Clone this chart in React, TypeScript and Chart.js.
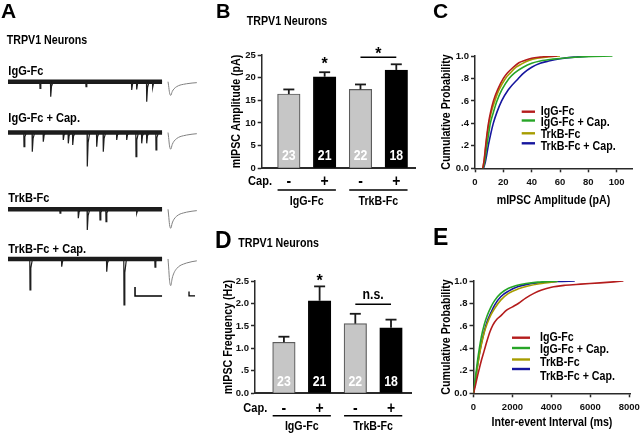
import React, { useEffect, useRef } from "react";
import { Chart, registerables } from "chart.js";

Chart.register(...registerables);

// ---------------- fonts / styles ----------------
const WIDE = "'Liberation Sans', Arial, sans-serif";
const NARROW_SCALE = 0.82;
const AXIS = "#2a2a2a";
const RED = "#b41c1c";
const GREEN = "#27a527";
const OLIVE = "#a69c00";
const BLUE = "#16169e";
const GREY_BAR = "#c6c6c6";

// ---------------- data : panel A (traces) ----------------
const TRACE_LABELS = ["IgG-Fc", "IgG-Fc + Cap.", "TrkB-Fc", "TrkB-Fc + Cap."];
const TRACE_MS = 5700;
// event times (ms) and amplitudes (pA)
const EV_IGG_T = [1184, 1580, 2886, 4577, 4762, 5132, 5354];
const EV_IGG_A = [7.4, 16.7, 5.6, 9.2, 8.6, 22.2, 6.3];
const EV_IGGCAP_T = [592, 899, 1306, 2046, 2231, 2394, 2934, 3282, 3526, 4022, 4392, 4736, 4947, 5132, 5476];
const EV_IGGCAP_A = [15.8, 21.3, 10.2, 8.3, 12, 13.9, 37.8, 15.8, 21.3, 8.3, 8.3, 26.9, 12, 12, 19.4];
const EV_TRKB_T = [1924, 2601, 2934, 3404, 3626, 4762];
const EV_TRKB_A = [4.4, 10, 23, 11.9, 13.7, 4.4];
const EV_TRKBCAP_T = [814, 1987, 3652, 4292, 5439];
const EV_TRKBCAP_A = [34.4, 8.6, 14.1, 51.1, 9.2];
// averaged event (inset)
const INSET_T = [0, 1, 2.5, 4.5, 7, 10, 14.5, 20, 26, 31, 40, 48];
const INSET_FRAC = [0, 0.3, 0.8, 1, 0.72, 0.52, 0.36, 0.25, 0.19, 0.15, 0.1, 0.07];
const INSET_AMP = [15.2, 18.5, 21.1, 29.6];
const SCALE_MS = 1000;
const SCALE_PA = 10;
const INSET_SCALE_MS = 10;
const INSET_SCALE_PA = 5;

// ---------------- data : panels B / D ----------------
const GROUPS = ["IgG-Fc", "TrkB-Fc"];
const CAP = ["-", "+", "-", "+"];
const N_CELLS = [23, 21, 22, 18];
const BAR_POS = [1, 2, 3, 4];
const AMP_MEAN = [16.4, 20.2, 17.4, 21.7];
const AMP_SEM = [1.0, 1.0, 1.1, 1.25];
const FREQ_MEAN = [1.135, 2.06, 1.55, 1.46];
const FREQ_SEM = [0.125, 0.32, 0.22, 0.18];
const AMP_TICKS = [0, 5, 10, 15, 20, 25];
const AMP_TICK_LABELS = ["0", "5", "10", "15", "20", "25"];
const FREQ_TICKS = [0, 0.5, 1, 1.5, 2, 2.5];
const FREQ_TICK_LABELS = ["0.0", ".5", "1.0", "1.5", "2.0", "2.5"];

// ---------------- data : panels C / E ----------------
const SERIES_NAMES = ["IgG-Fc", "IgG-Fc + Cap.", "TrkB-Fc", "TrkB-Fc + Cap."];
const SERIES_COLORS = [RED, GREEN, OLIVE, BLUE];
const PROB_TICKS = [0, 0.2, 0.4, 0.6, 0.8, 1];
const PROB_TICK_LABELS = ["0.0", ".2", ".4", ".6", ".8", "1.0"];
const AMP_X_TICKS = [0, 20, 40, 60, 80, 100];
const IEI_TICKS = [0, 2000, 4000, 6000, 8000];

const C_IGG = [[5.5, 0], [6.5, 0.08], [7.5, 0.2], [8.5, 0.31], [9.5, 0.4], [11, 0.5], [13, 0.6], [16, 0.7], [20, 0.8], [23, 0.85], [27, 0.9], [31, 0.94], [35, 0.96], [40, 0.98], [46, 0.99], [52, 0.996], [58, 1]];
const C_IGG_CAP = [[5.8, 0], [7, 0.07], [8, 0.17], [9.2, 0.27], [10.8, 0.4], [13, 0.5], [15.5, 0.6], [19, 0.7], [24, 0.8], [28, 0.85], [34, 0.9], [40, 0.935], [46, 0.955], [55, 0.972], [65, 0.985], [78, 0.994], [97, 1]];
const C_TRKB = [[5.5, 0], [6.5, 0.07], [7.5, 0.18], [8.5, 0.29], [9.8, 0.4], [11.5, 0.5], [14, 0.6], [17, 0.7], [21.5, 0.8], [25, 0.85], [29, 0.9], [33, 0.93], [38, 0.96], [44, 0.98], [52, 0.993], [60, 1]];
const C_TRKB_CAP = [[6, 0], [7.2, 0.05], [8.4, 0.13], [9.5, 0.21], [11, 0.3], [12.9, 0.4], [15.5, 0.5], [18.8, 0.6], [23.5, 0.7], [30.6, 0.8], [34.5, 0.85], [40, 0.9], [46, 0.935], [52, 0.955], [60, 0.975], [70, 0.99], [82, 1]];

const E_IGG = [[0, 0], [100, 0.07], [200, 0.15], [300, 0.22], [400, 0.29], [550, 0.38], [700, 0.47], [850, 0.55], [1000, 0.61], [1200, 0.66], [1400, 0.69], [1700, 0.74], [2000, 0.77], [2300, 0.8], [2700, 0.85], [3100, 0.89], [3500, 0.92], [4000, 0.945], [4700, 0.962], [5500, 0.972], [6500, 0.983], [7200, 0.992], [7700, 1]];
const E_IGG_CAP = [[0, 0], [100, 0.14], [200, 0.28], [300, 0.4], [400, 0.5], [550, 0.61], [700, 0.69], [900, 0.77], [1100, 0.83], [1400, 0.89], [1800, 0.935], [2200, 0.96], [2700, 0.978], [3300, 0.99], [4343, 1]];
const E_TRKB = [[0, 0], [100, 0.11], [200, 0.23], [300, 0.34], [400, 0.43], [550, 0.54], [700, 0.62], [900, 0.7], [1100, 0.76], [1400, 0.83], [1800, 0.89], [2300, 0.93], [2800, 0.955], [3400, 0.975], [4300, 0.995]];
const E_TRKB_CAP = [[0, 0], [100, 0.12], [200, 0.24], [300, 0.35], [400, 0.44], [550, 0.55], [700, 0.64], [900, 0.72], [1100, 0.79], [1400, 0.86], [1800, 0.91], [2300, 0.95], [2800, 0.972], [3500, 0.987], [4300, 0.995], [5203, 1]];

// ---------------- layout ----------------
const CW = 700;
const CH = 433;
const YW = 40;
const XH = 30;

const A_L = {
  area: { left: 8, top: 60, right: 200, bottom: 310 },
  xMax: 7104, xiMin: -266.7, xiMax: 53.3, yMin: -277.8,
  offsets: [-24.1, -80.6, -165.9, -221.1],
  labelX: 8.3, labelBase: [75, 122, 201.7, 252.7],
  letter: ["A", 1, 18.3, 21], subtitle: [6.7, 44],
  bar: [4700, -262.2], ibar: [35, -262.2],
};
const B_L = {
  area: { left: 261.7, top: 55, right: 416, bottom: 168.3 },
  xMin: 0.243, xMax: 4.55, yMax: 25,
  letter: ["B", 216, 17.5, 20], subtitle: [246.7, 25],
  yTitle: ["mIPSC Amplitude (pA)", 236, 111.5],
  nY: 155.5, capY: 181, capX: 248, capBase: 185, ulY: 190, groupBase: 205,
  stars: [[1, 23.9]], pair: [2, 3, 24.5, "*", 26.1],
};
const D_L = {
  area: { left: 255, top: 281, right: 411, bottom: 393.3 },
  xMin: 0.19, xMax: 4.56, yMax: 2.5,
  letter: ["D", 215, 248, 23], subtitle: [238.3, 246.7],
  yTitle: ["mIPSC Frequency (Hz)", 228, 337],
  nY: 381.7, capY: 408, capX: 243.3, capBase: 412, ulY: 415.7, groupBase: 430,
  stars: [[1, 2.6]], pair: [2, 3, 1.98, "n.s.", 2.19],
};
const C_L = {
  area: { left: 475, top: 56, right: 632, bottom: 168.3 },
  xMin: 0, xMax: 110.8,
  letter: ["C", 433, 18.3, 21],
  yTitle: ["Cumulative Probability", 446.7, 112],
  xTitle: ["mIPSC Amplitude (pA)", 553.5, 204],
  legend: { x0: 521.7, x1: 535, tx: 540.7, lineY: [111.7, 120.5, 133.3, 143.3], textY: [115, 126, 137.5, 150] },
};
const E_L = {
  area: { left: 473.5, top: 281, right: 630, bottom: 393.3 },
  xMin: 0, xMax: 8040,
  letter: ["E", 433, 245, 23],
  yTitle: ["Cumulative Probability", 446, 337],
  xTitle: ["Inter-event Interval (ms)", 552, 426],
  legend: { x0: 512, x1: 530, tx: 540, lineY: [337.7, 348, 359.5, 369], textY: [341.3, 353.1, 366.3, 380.1] },
};

// ---------------- helpers ----------------
function text(ctx: any, s: string, x: number, y: number, size: number, o: any = {}) {
  const { align = "left", baseline = "alphabetic", color = "#000", narrow = true, weight = "bold", rotate = 0 } = o;
  ctx.save();
  ctx.font = `${weight} ${size}px ${WIDE}`;
  ctx.fillStyle = color;
  ctx.textAlign = align;
  ctx.textBaseline = baseline;
  ctx.translate(x, y);
  if (rotate) ctx.rotate(rotate);
  if (narrow) ctx.scale(NARROW_SCALE, 1);
  ctx.fillText(s, 0, 0);
  ctx.restore();
}

function line(ctx: any, x0: number, y0: number, x1: number, y1: number, w: number, color = "#000") {
  ctx.save();
  ctx.strokeStyle = color;
  ctx.lineWidth = w;
  ctx.beginPath();
  ctx.moveTo(x0, y0);
  ctx.lineTo(x1, y1);
  ctx.stroke();
  ctx.restore();
}

function padding(area: any, withAxes: boolean) {
  return withAxes
    ? { left: area.left - YW, top: area.top, right: CW - area.right, bottom: CH - area.bottom - XH }
    : { left: area.left, top: area.top, right: CW - area.right, bottom: CH - area.bottom };
}

function baseOptions(area: any, withAxes: boolean) {
  return {
    responsive: false,
    maintainAspectRatio: false,
    animation: false,
    events: [],
    layout: { padding: padding(area, withAxes) },
    plugins: { legend: { display: false }, tooltip: { enabled: false }, title: { display: false } },
  };
}

const tickFont = { family: WIDE, size: 9.5, weight: "bold" };

function yAxis(min: number, max: number, ticks: number[], labels: string[]) {
  return {
    type: "linear", position: "left", min, max,
    afterBuildTicks: (s: any) => { s.ticks = ticks.map((v) => ({ value: v })); },
    afterFit: (s: any) => { s.width = YW; },
    ticks: { callback: (_v: any, i: number) => labels[i], color: "#111", font: tickFont, padding: 2 },
    grid: { display: true, drawOnChartArea: false, drawTicks: true, tickLength: 4, tickWidth: 1.5, tickColor: AXIS, color: AXIS },
    border: { display: true, color: AXIS, width: 1.5 },
  };
}

function xAxisTicks(min: number, max: number, ticks: number[]) {
  return {
    type: "linear", position: "bottom", min, max, offset: false,
    afterBuildTicks: (s: any) => { s.ticks = ticks.map((v) => ({ value: v })); },
    afterFit: (s: any) => { s.height = XH; },
    ticks: { callback: (v: any) => String(v), color: "#111", font: tickFont, padding: 4, maxRotation: 0, autoSkip: false },
    grid: { display: true, drawOnChartArea: false, drawTicks: true, tickLength: 4, tickWidth: 1.5, tickColor: AXIS, color: AXIS, offset: false },
    border: { display: true, color: AXIS, width: 1.5 },
  };
}

function xAxisPlain(min: number, max: number) {
  return {
    type: "linear", position: "bottom", min, max, offset: false,
    afterFit: (s: any) => { s.height = XH; },
    ticks: { display: false },
    grid: { display: false, offset: false },
    border: { display: true, color: AXIS, width: 2 },
  };
}

// ---------------- panel A ----------------
function eventPoints(times: number[], amps: number[], off: number) {
  const pts: any[] = [{ x: 0, y: off }];
  times.forEach((t, k) => {
    const a = amps[k];
    pts.push({ x: t - 8, y: off }, { x: t, y: off - a }, { x: t + 30, y: off - a * 0.3 }, { x: t + 90, y: off });
  });
  pts.push({ x: TRACE_MS, y: off });
  return pts;
}

function configA() {
  const L = A_L;
  const evT = [EV_IGG_T, EV_IGGCAP_T, EV_TRKB_T, EV_TRKBCAP_T];
  const evA = [EV_IGG_A, EV_IGGCAP_A, EV_TRKB_A, EV_TRKBCAP_A];
  const datasets: any[] = [];
  L.offsets.forEach((off, i) => {
    datasets.push({
      data: eventPoints(evT[i], evA[i], off), xAxisID: "x", yAxisID: "y",
      borderColor: "#1e1e1e", borderWidth: 1.2, pointRadius: 0, tension: 0,
    });
    datasets.push({
      data: [{ x: 0, y: off }, { x: TRACE_MS, y: off }], xAxisID: "x", yAxisID: "y",
      borderColor: "#1b1b1b", borderWidth: 4.5, pointRadius: 0, borderCapStyle: "butt",
    });
    datasets.push({
      data: INSET_T.map((t, k) => ({ x: t, y: off - INSET_AMP[i] * INSET_FRAC[k] })), xAxisID: "xi", yAxisID: "y",
      borderColor: "#808080", borderWidth: 1, pointRadius: 0, cubicInterpolationMode: "monotone",
    });
  });
  const [bx, by] = L.bar;
  datasets.push({
    data: [{ x: bx, y: by + SCALE_PA }, { x: bx, y: by }, { x: bx + SCALE_MS, y: by }], xAxisID: "x", yAxisID: "y",
    borderColor: "#000", borderWidth: 1.5, pointRadius: 0,
  });
  const [ix, iy] = L.ibar;
  datasets.push({
    data: [{ x: ix, y: iy + INSET_SCALE_PA }, { x: ix, y: iy }, { x: ix + INSET_SCALE_MS, y: iy }], xAxisID: "xi", yAxisID: "y",
    borderColor: "#000", borderWidth: 1.3, pointRadius: 0,
  });
  return {
    type: "line",
    data: { datasets },
    options: {
      ...baseOptions(L.area, false),
      scales: {
        x: { type: "linear", display: false, min: 0, max: L.xMax },
        xi: { type: "linear", display: false, min: L.xiMin, max: L.xiMax },
        y: { type: "linear", display: false, min: L.yMin, max: 0 },
      },
    },
    plugins: [{
      id: "aText",
      afterDraw(chart: any) {
        const ctx = chart.ctx;
        const [l, lx, ly, ls] = L.letter as any;
        text(ctx, l, lx, ly, ls, { narrow: false });
        text(ctx, "TRPV1 Neurons", L.subtitle[0], L.subtitle[1], 13);
        TRACE_LABELS.forEach((s, i) => text(ctx, s, L.labelX, L.labelBase[i], 13.5));
      },
    }],
  };
}

// ---------------- panels B / D ----------------
const BAR_W = 22.5;

function configBar(L: any, means: number[], sems: number[], ticks: number[], labels: string[]) {
  return {
    type: "bar",
    data: {
      datasets: [{
        data: BAR_POS.map((p, i) => ({ x: p, y: means[i] })),
        backgroundColor: CAP.map((c) => (c === "+" ? "#000" : GREY_BAR)),
        borderColor: CAP.map((c) => (c === "+" ? "#000" : "#5c5c5c")),
        borderWidth: 1.2,
        barThickness: BAR_W,
      }],
    },
    options: {
      ...baseOptions(L.area, true),
      scales: { x: xAxisPlain(L.xMin, L.xMax), y: yAxis(0, L.yMax, ticks, labels) },
    },
    plugins: [{
      id: "barDecor",
      afterDatasetsDraw(chart: any) {
        const ctx = chart.ctx;
        const xs = chart.scales.x;
        const ys = chart.scales.y;
        const cx = BAR_POS.map((p) => xs.getPixelForValue(p));
        // error bars
        BAR_POS.forEach((_p, i) => {
          const y0 = ys.getPixelForValue(means[i]);
          const y1 = ys.getPixelForValue(means[i] + sems[i]);
          line(ctx, cx[i], y0, cx[i], y1, 1.8, "#1a1a1a");
          line(ctx, cx[i] - 5.5, y1, cx[i] + 5.5, y1, 1.8, "#1a1a1a");
        });
        // n in bars
        N_CELLS.forEach((n, i) => text(ctx, String(n), cx[i], L.nY, 15, { align: "center", baseline: "middle", color: "#fff" }));
        // Cap. row
        text(ctx, "Cap.", L.capX, L.capBase, 13.5);
        CAP.forEach((c, i) => text(ctx, c, cx[i], L.capY + 5.2, 17, { align: "center" }));
        // group underlines + labels
        GROUPS.forEach((g, gi) => {
          const a = cx[gi * 2];
          const b = cx[gi * 2 + 1];
          line(ctx, a - BAR_W / 2, L.ulY, b + BAR_W / 2, L.ulY, 1.5);
          text(ctx, g, (a + b) / 2, L.groupBase, 13, { align: "center" });
        });
        // significance
        L.stars.forEach(([i, v]: any) => {
          text(ctx, "*", cx[i], ys.getPixelForValue(v) + 9.3, 16, { align: "center", narrow: false });
        });
        const [i0, i1, lv, lab, labV] = L.pair;
        const ly = ys.getPixelForValue(lv);
        line(ctx, cx[i0], ly, cx[i1], ly, 1.5);
        const labY = ys.getPixelForValue(labV);
        if (lab === "*") text(ctx, "*", (cx[i0] + cx[i1]) / 2, labY + 9.3, 16, { align: "center", narrow: false });
        else text(ctx, lab, (cx[i0] + cx[i1]) / 2, labY + 4, 15, { align: "center" });
        // titles
        const [l, lx, lyy, ls] = L.letter;
        text(ctx, l, lx, lyy, ls, { narrow: false });
        text(ctx, "TRPV1 Neurons", L.subtitle[0], L.subtitle[1], 13);
        text(ctx, L.yTitle[0], L.yTitle[1], L.yTitle[2], 13, { align: "center", baseline: "middle", rotate: -Math.PI / 2 });
      },
    }],
  };
}

// ---------------- panels C / E ----------------
function configCdf(L: any, series: number[][][], xTicks: number[]) {
  return {
    type: "line",
    data: {
      datasets: series.map((s, i) => ({
        data: s.map(([x, y]) => ({ x, y })),
        borderColor: SERIES_COLORS[i],
        borderWidth: 1.6,
        pointRadius: 0,
        cubicInterpolationMode: "monotone",
        fill: false,
      })),
    },
    options: {
      ...baseOptions(L.area, true),
      scales: { x: xAxisTicks(L.xMin, L.xMax, xTicks), y: yAxis(0, 1, PROB_TICKS, PROB_TICK_LABELS) },
    },
    plugins: [{
      id: "cdfDecor",
      afterDraw(chart: any) {
        const ctx = chart.ctx;
        const lg = L.legend;
        SERIES_NAMES.forEach((name, i) => {
          line(ctx, lg.x0, lg.lineY[i], lg.x1, lg.lineY[i], 2.4, SERIES_COLORS[i]);
          text(ctx, name, lg.tx, lg.textY[i], 13);
        });
        const [l, lx, ly, ls] = L.letter;
        text(ctx, l, lx, ly, ls, { narrow: false });
        text(ctx, L.yTitle[0], L.yTitle[1], L.yTitle[2], 13, { align: "center", baseline: "middle", rotate: -Math.PI / 2 });
        text(ctx, L.xTitle[0], L.xTitle[1], L.xTitle[2], 13, { align: "center" });
      },
    }],
  };
}

export default function App() {
  const rA = useRef<HTMLCanvasElement>(null);
  const rB = useRef<HTMLCanvasElement>(null);
  const rC = useRef<HTMLCanvasElement>(null);
  const rD = useRef<HTMLCanvasElement>(null);
  const rE = useRef<HTMLCanvasElement>(null);

  useEffect(() => {
    document.body.style.margin = "0";
    const charts: any[] = [
      new Chart(rA.current as any, configA() as any),
      new Chart(rB.current as any, configBar(B_L, AMP_MEAN, AMP_SEM, AMP_TICKS, AMP_TICK_LABELS) as any),
      new Chart(rD.current as any, configBar(D_L, FREQ_MEAN, FREQ_SEM, FREQ_TICKS, FREQ_TICK_LABELS) as any),
      new Chart(rC.current as any, configCdf(C_L, [C_IGG, C_IGG_CAP, C_TRKB, C_TRKB_CAP], AMP_X_TICKS) as any),
      new Chart(rE.current as any, configCdf(E_L, [E_IGG, E_IGG_CAP, E_TRKB, E_TRKB_CAP], IEI_TICKS) as any),
    ];
    return () => charts.forEach((c) => c.destroy());
  }, []);

  const cs: any = { position: "absolute", left: 0, top: 0, width: CW, height: CH };
  return (
    <div style={{ position: "fixed", left: 0, top: 0, width: 640, height: 433, overflow: "hidden", background: "#fff" }}>
      <canvas ref={rA} width={CW} height={CH} style={cs} />
      <canvas ref={rB} width={CW} height={CH} style={cs} />
      <canvas ref={rC} width={CW} height={CH} style={cs} />
      <canvas ref={rD} width={CW} height={CH} style={cs} />
      <canvas ref={rE} width={CW} height={CH} style={cs} />
    </div>
  );
}
